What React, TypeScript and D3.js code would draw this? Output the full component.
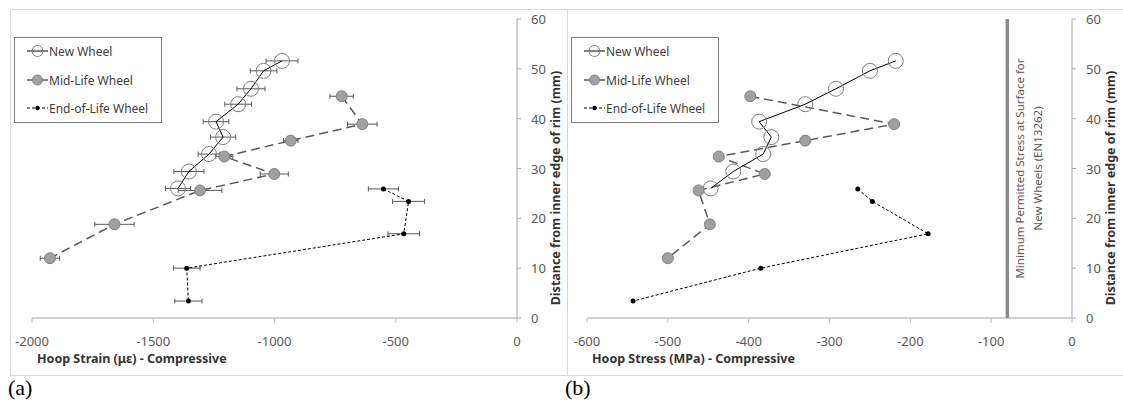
import React, { useEffect, useRef } from 'react';
import * as d3 from 'd3';

// depth from inner edge of rim (mm)
const depthNew = [51.6, 49.6, 46.0, 42.9, 39.4, 36.3, 32.9, 29.4, 26.0];
const depthMid = [44.5, 38.9, 35.6, 32.4, 28.9, 25.6, 18.8, 12.0];
const depthEnd = [25.9, 23.4, 16.9, 10.0, 3.4];

// (a) hoop strain (microstrain) with error bars
const strainNew = [-969, -1045, -1097, -1150, -1241, -1212, -1270, -1353, -1398];
const strainNewErr = [66, 55, 58, 55, 53, 52, 45, 62, 52];
const strainMid = [-723, -638, -933, -1207, -1001, -1307, -1660, -1926];
const strainMidErr = [48, 61, 30, 35, 58, 90, 81, 40];
const strainEnd = [-551, -447, -467, -1362, -1355];
const strainEndErr = [62, 66, 65, 55, 56];

// (b) hoop stress (MPa)
const stressNew = [-218, -250, -292, -330, -387, -372, -382, -419, -447];
const stressMid = [-398, -220, -330, -437, -380, -462, -448, -500];
const stressEnd = [-265, -247, -178, -385, -543];
const minPermittedStress = -80;

const strainTicks = [-2000, -1500, -1000, -500, 0];
const stressTicks = [-600, -500, -400, -300, -200, -100, 0];
const depthTicks = [0, 10, 20, 30, 40, 50, 60];

const seriesNames = ['New Wheel', 'Mid-Life Wheel', 'End-of-Life Wheel'];

const FONT = "'Noto Sans', 'Open Sans', sans-serif";

const App = () => {
  const svgRef = useRef(null);

  useEffect(() => {
    if (!svgRef.current) return;
    const svg = d3.select(svgRef.current);
    svg.selectAll('*').remove();

    const y = d3.scaleLinear().domain([0, 60]).range([318, 19]);

    const drawPanel = (opts) => {
      const { x0, x1, domain, ticks, values, errors, title, label, boxX, boxW, refLine } = opts;
      const x = d3.scaleLinear().domain(domain).range([x0, x1]);
      const g = svg.append('g');

      // panel border
      g.append('rect')
        .attr('x', boxX + 0.5).attr('y', 9.5)
        .attr('width', boxW).attr('height', 366)
        .attr('fill', 'none').attr('stroke', '#d9d9d9');

      // x axis
      g.append('line')
        .attr('x1', x0).attr('x2', x1).attr('y1', y(0)).attr('y2', y(0))
        .attr('stroke', '#cfcfcf').attr('stroke-width', 2);
      g.selectAll('.xt').data(ticks).join('line')
        .attr('x1', d => x(d)).attr('x2', d => x(d))
        .attr('y1', y(0)).attr('y2', y(0) + 5)
        .attr('stroke', '#bfbfbf');
      g.selectAll('.xl').data(ticks).join('text')
        .attr('x', d => x(d)).attr('y', 346)
        .attr('text-anchor', 'middle')
        .attr('font-family', FONT).attr('font-size', 13).attr('fill', '#595959')
        .text(d => d3.format('d')(d).replace('−', '-'));
      g.append('text')
        .attr('x', x0 + 5).attr('y', 363)
        .attr('font-family', FONT).attr('font-size', 12.5).attr('font-weight', 'bold')
        .attr('fill', '#333')
        .text(title);

      // y axis on the right (at x = 0)
      const ax = x(0);
      g.append('line')
        .attr('x1', ax).attr('x2', ax).attr('y1', y(60)).attr('y2', y(0))
        .attr('stroke', '#a6a6a6');
      g.selectAll('.yt').data(depthTicks).join('line')
        .attr('x1', ax).attr('x2', ax + 4)
        .attr('y1', d => y(d)).attr('y2', d => y(d))
        .attr('stroke', '#a6a6a6');
      g.selectAll('.yl').data(depthTicks).join('text')
        .attr('x', ax + 14).attr('y', d => y(d) + 5)
        .attr('font-family', FONT).attr('font-size', 13).attr('fill', '#595959')
        .text(d => d);
      g.append('text')
        .attr('transform', `translate(${ax + 43},188) rotate(-90)`)
        .attr('text-anchor', 'middle')
        .attr('font-family', FONT).attr('font-size', 12.5).attr('font-weight', 'bold')
        .attr('fill', '#333')
        .text('Distance from inner edge of rim (mm)');

      // reference line
      if (refLine !== undefined) {
        const rx = x(refLine);
        g.append('line')
          .attr('x1', rx).attr('x2', rx).attr('y1', y(60)).attr('y2', y(0))
          .attr('stroke', '#8c8c8c').attr('stroke-width', 3.5);
        const t = g.append('text')
          .attr('transform', `translate(${rx + 17},${(y(0) + y(60)) / 2}) rotate(-90)`)
          .attr('text-anchor', 'middle')
          .attr('font-family', FONT).attr('font-size', 11.5).attr('fill', '#595959');
        t.append('tspan').attr('x', 0).attr('dy', 0).text('Minimum Permitted Stress at Surface for');
        t.append('tspan').attr('x', 0).attr('dy', 18).text('New Wheels (EN13262)');
      }

      const line = d3.line().x(d => x(d[0])).y(d => y(d[1]));
      const pts = (vals, depths) => vals.map((v, i) => [v, depths[i]]);
      const newPts = pts(values[0], depthNew);
      const midPts = pts(values[1], depthMid);
      const endPts = pts(values[2], depthEnd);

      // error bars
      if (errors) {
        const bars = [
          ...newPts.map((p, i) => [p, errors[0][i]]),
          ...midPts.map((p, i) => [p, errors[1][i]]),
          ...endPts.map((p, i) => [p, errors[2][i]]),
        ];
        const eb = g.append('g').attr('stroke', '#595959').attr('stroke-width', 1);
        bars.forEach(([p, e]) => {
          const cy = y(p[1]);
          eb.append('line').attr('x1', x(p[0] - e)).attr('x2', x(p[0] + e)).attr('y1', cy).attr('y2', cy);
          eb.append('line').attr('x1', x(p[0] - e)).attr('x2', x(p[0] - e)).attr('y1', cy - 2.5).attr('y2', cy + 2.5);
          eb.append('line').attr('x1', x(p[0] + e)).attr('x2', x(p[0] + e)).attr('y1', cy - 2.5).attr('y2', cy + 2.5);
        });
      }

      // series lines
      g.append('path').datum(endPts).attr('d', line)
        .attr('fill', 'none').attr('stroke', '#000').attr('stroke-width', 1)
        .attr('stroke-dasharray', '3,2');
      g.append('path').datum(midPts).attr('d', line)
        .attr('fill', 'none').attr('stroke', '#595959').attr('stroke-width', 1.5)
        .attr('stroke-dasharray', '9,5');
      g.append('path').datum(newPts).attr('d', line)
        .attr('fill', 'none').attr('stroke', '#000').attr('stroke-width', 1);

      // markers
      g.selectAll('.mn').data(newPts).join('circle')
        .attr('cx', d => x(d[0])).attr('cy', d => y(d[1])).attr('r', 7.5)
        .attr('fill', 'none').attr('stroke', '#7f7f7f').attr('stroke-width', 1);
      g.selectAll('.mm').data(midPts).join('circle')
        .attr('cx', d => x(d[0])).attr('cy', d => y(d[1])).attr('r', 5.5)
        .attr('fill', '#a0a0a0').attr('stroke', '#808080').attr('stroke-width', 1);
      g.selectAll('.me').data(endPts).join('circle')
        .attr('cx', d => x(d[0])).attr('cy', d => y(d[1])).attr('r', 2.5)
        .attr('fill', '#000');

      // legend
      const lx = boxX + 4;
      const leg = g.append('g').attr('transform', `translate(${lx},37)`);
      leg.append('rect').attr('x', 0.5).attr('y', 0.5).attr('width', 147).attr('height', 85)
        .attr('fill', '#fff').attr('stroke', '#7f7f7f');
      const rows = [14, 43, 71];
      seriesNames.forEach((name, i) => {
        const ry = rows[i];
        const ln = leg.append('line').attr('x1', 13).attr('x2', 34).attr('y1', ry).attr('y2', ry);
        if (i === 0) ln.attr('stroke', '#000');
        if (i === 1) ln.attr('stroke', '#595959').attr('stroke-width', 1.5);
        if (i === 2) ln.attr('stroke', '#000').attr('stroke-dasharray', '3,2');
        if (i === 0) leg.append('circle').attr('cx', 23.5).attr('cy', ry).attr('r', 5.5)
          .attr('fill', 'none').attr('stroke', '#7f7f7f');
        if (i === 1) leg.append('circle').attr('cx', 23.5).attr('cy', ry).attr('r', 5)
          .attr('fill', '#a0a0a0').attr('stroke', '#808080');
        if (i === 2) leg.append('circle').attr('cx', 23.5).attr('cy', ry).attr('r', 2.2)
          .attr('fill', '#000');
        leg.append('text').attr('x', 35).attr('y', ry + 4.5)
          .attr('font-family', FONT).attr('font-size', 12).attr('fill', '#404040')
          .text(name);
      });

      // panel label
      svg.append('text')
        .attr('x', boxX - 2).attr('y', 395)
        .attr('font-family', "'Liberation Serif', 'DejaVu Serif', serif").attr('font-size', 22)
        .attr('fill', '#000')
        .text(label);
    };

    drawPanel({
      x0: 32, x1: 517, domain: [-2000, 0], ticks: strainTicks,
      values: [strainNew, strainMid, strainEnd],
      errors: [strainNewErr, strainMidErr, strainEndErr],
      title: 'Hoop Strain (με) - Compressive', label: '(a)',
      boxX: 10, boxW: 557,
    });
    drawPanel({
      x0: 587, x1: 1072, domain: [-600, 0], ticks: stressTicks,
      values: [stressNew, stressMid, stressEnd],
      errors: null,
      title: 'Hoop Stress (MPa) - Compressive', label: '(b)',
      boxX: 567, boxW: 560, refLine: minPermittedStress,
    });
  }, []);

  return (
    <div style={{ position: 'absolute', left: 0, top: 0, width: 1123, height: 400, background: '#fff' }}>
      <svg ref={svgRef} width={1123} height={400} style={{ display: 'block' }}></svg>
    </div>
  );
};

export default App;
